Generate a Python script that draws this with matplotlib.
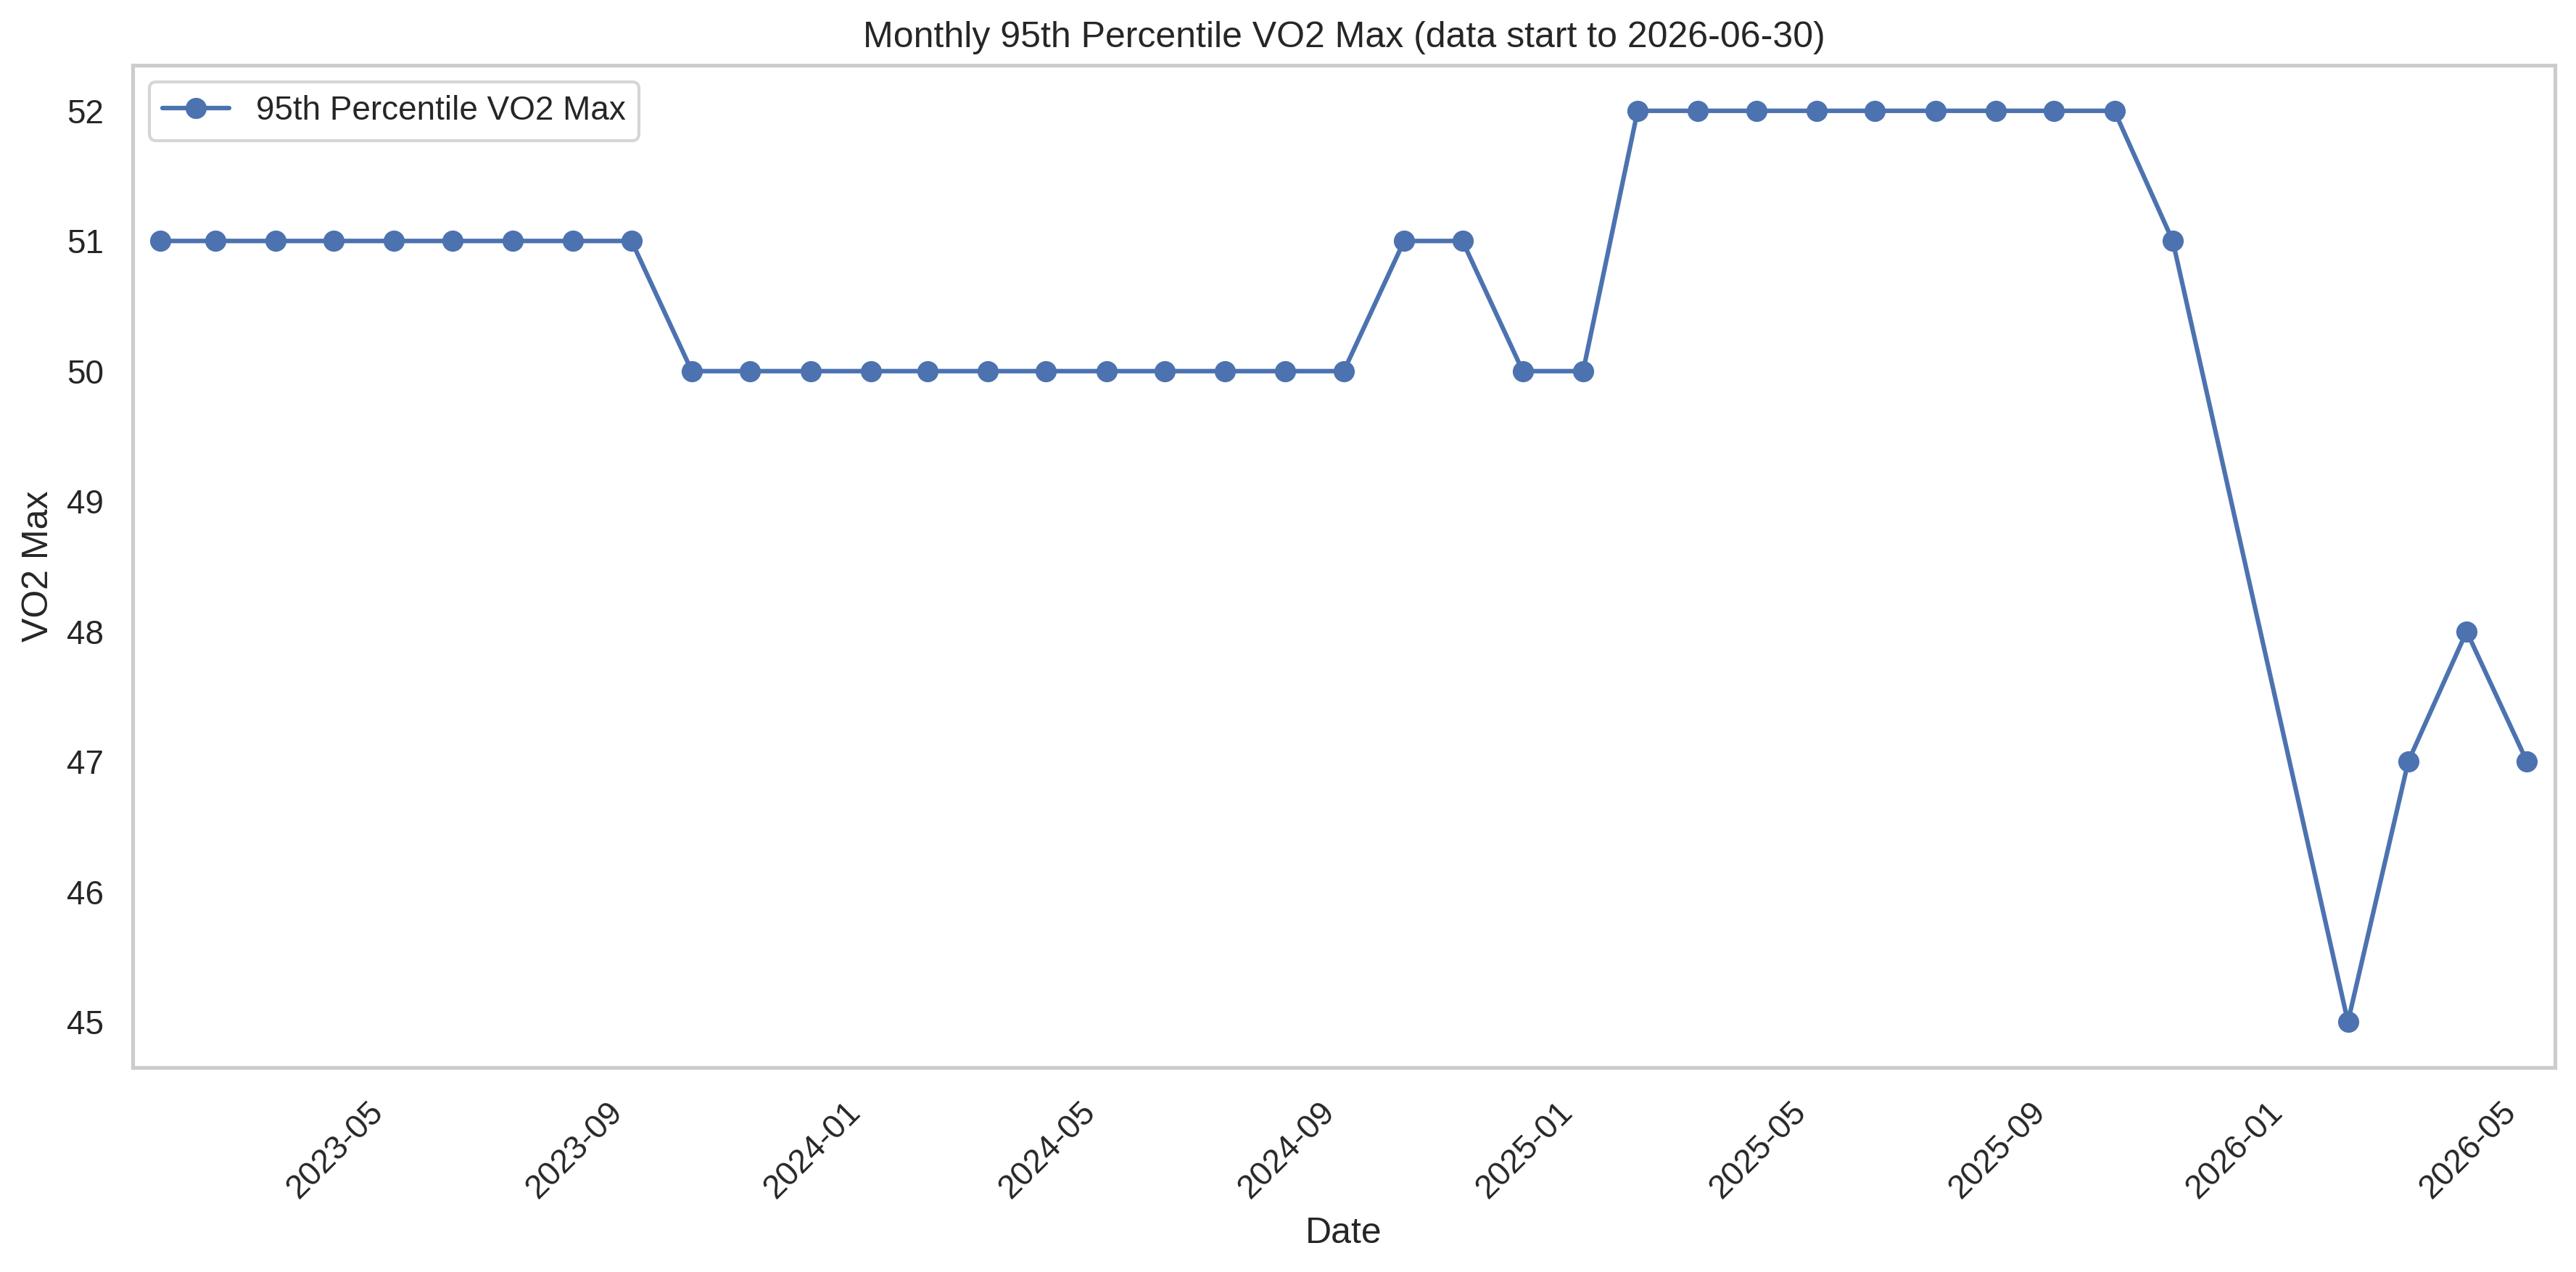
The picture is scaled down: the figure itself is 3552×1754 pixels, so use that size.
import matplotlib
matplotlib.use("Agg")
import matplotlib.pyplot as plt
import matplotlib.dates as mdates
import pandas as pd
import seaborn as sns

sns.set_theme(style="whitegrid")
plt.rcParams['font.family'] = ['Liberation Sans', 'DejaVu Sans']

months = (
    ["2023-01", "2023-02", "2023-03", "2023-04", "2023-05", "2023-06", "2023-07", "2023-08", "2023-09"]
    + ["2023-10", "2023-11", "2023-12", "2024-01", "2024-02", "2024-03", "2024-04", "2024-05",
       "2024-06", "2024-07", "2024-08", "2024-09"]
    + ["2024-10", "2024-11", "2024-12", "2025-01"]
    + ["2025-02", "2025-03", "2025-04", "2025-05", "2025-06", "2025-07", "2025-08", "2025-09", "2025-10"]
    + ["2025-11", "2026-02", "2026-03", "2026-04", "2026-05"]
)
vo2_p95 = (
    [51, 51, 51, 51, 51, 51, 51, 51, 51]
    + [50, 50, 50, 50, 50, 50, 50, 50, 50, 50, 50, 50]
    + [51, 51, 50, 50]
    + [52, 52, 52, 52, 52, 52, 52, 52, 52]
    + [51, 45, 47, 48, 47]
)

dates = pd.to_datetime(months) + pd.offsets.MonthEnd(0)

fig = plt.figure(figsize=(3552 / 300, 1754 / 300), dpi=300)
ax = fig.add_axes([0.0515, 0.1608, 0.9918 - 0.0515, 0.9487 - 0.1608])

ax.plot(dates, vo2_p95, marker='o', color='#4c72b0', linewidth=1.5, markersize=6,
        label='95th Percentile VO2 Max')
ax.margins(x=0.0118)
ax.grid(False)
for s in ax.spines.values():
    s.set_color('#cccccc')
    s.set_linewidth(1.25)

ax.xaxis.set_major_locator(mdates.MonthLocator(bymonth=[1, 5, 9]))
ax.xaxis.set_major_formatter(mdates.DateFormatter('%Y-%m'))
plt.setp(ax.get_xticklabels(), rotation=45)
ax.tick_params(labelsize=11, colors='#262626')

ax.set_title('Monthly 95th Percentile VO2 Max (data start to 2026-06-30)', fontsize=12)
ax.set_xlabel('Date', fontsize=12)
ax.set_ylabel('VO2 Max', fontsize=12)
ax.legend(loc='upper left', fontsize=11)

fig.savefig('out.png', dpi=300)
